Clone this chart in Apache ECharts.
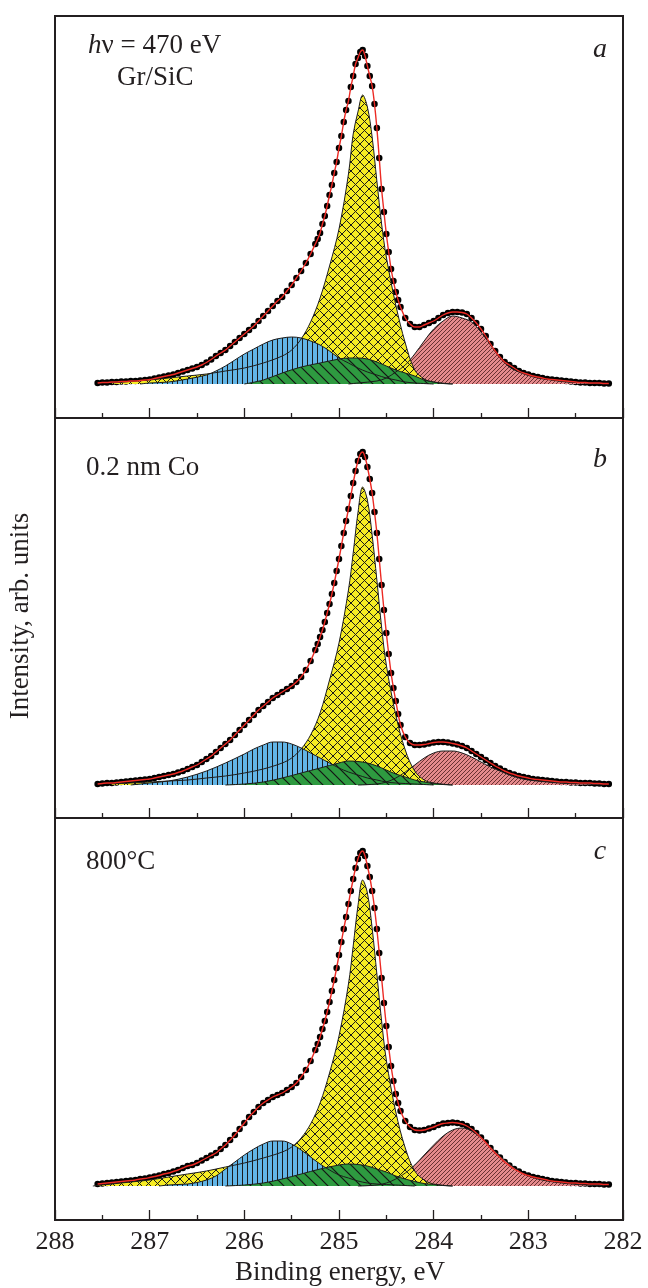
<!DOCTYPE html>
<html>
<head>
<meta charset="utf-8">
<script src="https://cdn.jsdelivr.net/npm/echarts@6/dist/echarts.min.js"></script>
<style>
  html, body { margin: 0; padding: 0; background: #fff; }
  #chart { width: 648px; height: 1288px; }
</style>
</head>
<body>
<div id="chart"></div>
<script>
// binding energies of the measured points (eV), shared by the three spectra
const dotEnergy = [
  287.55, 287.50, 287.45, 287.40, 287.35, 287.30, 287.25, 287.20, 287.15, 287.10,
  287.05, 287.00, 286.95, 286.90, 286.85, 286.80, 286.75, 286.70, 286.65, 286.60,
  286.55, 286.50, 286.45, 286.40, 286.35, 286.30, 286.25, 286.20, 286.15, 286.10,
  286.05, 286.00, 285.95, 285.90, 285.85, 285.80, 285.75, 285.70, 285.65, 285.60,
  285.55, 285.50, 285.45, 285.40, 285.35, 285.30, 285.25, 285.20, 285.15, 285.10,
  285.05, 285.00, 284.95, 284.90, 284.85, 284.80, 284.75, 284.70, 284.65, 284.60,
  284.55, 284.50, 284.45, 284.40, 284.35, 284.30, 284.25, 284.20, 284.15, 284.10,
  284.05, 284.00, 283.95, 283.90, 283.85, 283.80, 283.75, 283.70, 283.65, 283.60,
  283.55, 283.50, 283.45, 283.40, 283.35, 283.30, 283.25, 283.20, 283.15, 283.10,
  283.05, 283.00, 282.95, 282.90, 282.85, 282.80, 282.75, 282.70, 282.65, 282.60,
  282.55, 282.50, 282.45, 282.40, 282.35, 282.30, 282.25, 282.20, 282.15
];
// extra points measured on the steep part of the main peak
const fineEnergy = [
  285.225, 285.175, 285.125, 285.075, 285.025, 284.975, 284.925, 284.875, 284.825,
  284.775, 284.725, 284.675, 284.625, 284.575, 284.525, 284.475, 284.425, 284.375
];

// measured intensity (arb. units above background)
const dotsA = [
  1, 1.5, 1.5, 2, 2, 2.5, 2.5, 3, 3, 3.5,
  4, 4.5, 5.5, 6.5, 7.5, 8.5, 9.5, 11, 12.5, 14,
  15.5, 17, 19, 21.5, 24.5, 28, 31, 34, 38, 42,
  46, 50, 54, 58, 63, 68, 73, 78, 83, 87,
  93, 99, 106, 113, 121, 130, 140, 151, 168, 189,
  211, 236, 262, 283, 308, 326, 334, 318, 298, 256,
  195, 150, 115, 92, 77, 66, 60, 57, 57, 59,
  61, 63, 66, 69, 71, 72, 72, 71.5, 70, 66,
  61, 55, 48, 40, 33, 27, 22, 19, 16, 13,
  11, 9.5, 8, 7, 6, 5, 4.5, 4, 3.5, 3,
  2.5, 2, 1.5, 1.5, 1, 1, 1, 0.5, 0.5
];
const fineA = [145, 160, 178, 199, 222, 248, 274, 297, 320, 332, 328, 308, 280, 226, 172, 132, 103, 84];

const dotsB = [
  1, 1.5, 2, 2, 2.5, 3, 3.5, 4, 4.5, 5,
  5.5, 6, 7, 8, 9, 10, 11, 12.5, 14, 16,
  18, 20, 23, 26, 29, 33, 37, 41, 45, 50,
  55, 60, 65, 70, 75, 79, 83, 87, 90, 93,
  96, 99, 103, 108, 115, 124, 135, 148, 163, 181,
  202, 226, 252, 276, 302, 324, 333, 318, 292, 252,
  200, 152, 112, 84, 60, 48, 42, 40, 40, 40.5,
  41.5, 42.5, 43, 43, 42.5, 41.5, 40.5, 39, 37, 34,
  31, 28, 25, 22, 19, 16.5, 14, 12, 10.5, 9,
  8, 7, 6, 5.5, 5, 4.5, 4, 3.5, 3, 3,
  2.5, 2.5, 2, 2, 2, 1.5, 1.5, 1, 1
];
const fineB = [141, 155, 172, 191, 214, 239, 264, 289, 314, 331, 328, 306, 273, 226, 175, 131, 97, 71];

const dotsC = [
  2, 2.5, 3, 3.5, 4, 4.5, 5, 5.5, 6, 7,
  7.5, 8.5, 9.5, 10.5, 12, 13, 14.5, 16, 18, 20,
  21, 23, 25.5, 28, 30.5, 33, 37, 41, 46, 51,
  57, 63, 69, 74, 79, 83, 86, 89, 91, 93,
  96, 99, 103, 109, 116, 125, 136, 149, 165, 184,
  206, 231, 257, 282, 307, 327, 335, 320, 295, 257,
  208, 160, 120, 92, 75, 65, 59, 56, 55.5, 56,
  57.5, 59, 61, 62.5, 63, 63.5, 63, 62, 60, 57,
  53, 48.5, 43.5, 38, 33, 28.5, 24, 20.5, 17, 14.5,
  12, 10.5, 9, 8, 7, 6, 5, 4.5, 4, 3.5,
  3, 3, 2.5, 2.5, 2, 2, 2, 1.5, 1.5
];
const fineC = [142, 157, 174, 195, 218, 244, 269, 295, 318, 333, 330, 309, 278, 233, 183, 139, 105, 83];

// fitted components [energy, intensity]
const yellowA = [[287.4,1],[287.2,2.5],[287.0,4],[286.8,6],[286.6,8],[286.4,10],[286.2,13],[286.0,16],[285.8,21],[285.6,28],[285.5,34],[285.4,45],[285.3,62],[285.2,86],[285.1,118],[285.0,155],[284.9,210],[284.85,250],[284.8,272],[284.75,289],[284.7,277],[284.65,247],[284.6,203],[284.55,160],[284.5,127],[284.4,79],[284.3,41],[284.2,14],[284.1,5],[284.0,2],[283.8,0]];
const blueA = [[287.1,0],[287.0,1],[286.8,2],[286.6,5],[286.4,9],[286.3,13],[286.2,18],[286.1,24],[286.0,30],[285.9,35],[285.8,40],[285.7,44],[285.6,46],[285.5,47],[285.4,46],[285.3,43],[285.2,39],[285.1,33],[285.0,26],[284.9,21],[284.8,16],[284.7,12],[284.6,9],[284.5,6],[284.4,4],[284.3,2],[284.2,1],[284.0,0]];
const greenA = [[286.0,0],[285.8,4],[285.6,11],[285.4,17],[285.2,21],[285.0,25],[284.9,26],[284.8,26],[284.7,25],[284.6,22],[284.5,18],[284.4,14],[284.3,11],[284.2,8],[284.1,4],[284.0,2],[283.9,0.5],[283.8,0]];
const redA = [[284.9,0],[284.8,1],[284.6,3],[284.5,6],[284.4,12],[284.3,19],[284.2,30],[284.1,43],[284.0,55],[283.9,63],[283.8,68],[283.7,66],[283.6,62],[283.5,52],[283.4,39],[283.3,26],[283.2,17],[283.1,12],[283.0,8.5],[282.9,6],[282.8,4.5],[282.6,2],[282.4,1],[282.2,0]];

const yellowB = [[287.4,1],[287.2,2],[287.0,3],[286.8,4],[286.6,5],[286.4,7],[286.2,9],[286.0,12],[285.8,16],[285.6,22],[285.5,27],[285.4,36],[285.3,50],[285.2,72],[285.1,105],[285.0,142],[284.9,195],[284.85,232],[284.8,272],[284.75,298],[284.7,285],[284.65,250],[284.6,205],[284.55,158],[284.5,120],[284.4,70],[284.3,35],[284.2,14],[284.1,5],[284.0,2],[283.8,0]];
const blueB = [[287.2,0],[287.0,2],[286.8,4],[286.6,8],[286.4,14],[286.2,22],[286.0,31],[285.9,36],[285.8,40],[285.7,43],[285.6,43],[285.5,41],[285.4,37],[285.3,32],[285.2,27],[285.1,22],[285.0,17],[284.9,13],[284.8,10],[284.7,7],[284.6,5],[284.5,3],[284.4,2],[284.2,1],[284.0,0]];
const greenB = [[286.2,0],[286.0,1],[285.8,3],[285.6,7],[285.4,12],[285.2,17],[285.0,22],[284.9,24],[284.8,23.5],[284.7,22],[284.6,19],[284.5,15],[284.4,11],[284.3,8],[284.2,5],[284.1,3],[284.0,1.5],[283.9,0.5],[283.8,0]];
const redB = [[284.8,0],[284.6,1],[284.5,3],[284.4,7],[284.3,13],[284.2,20],[284.1,27],[284.0,32],[283.9,34],[283.8,34],[283.7,32],[283.6,28],[283.5,23],[283.4,18],[283.3,14],[283.2,10],[283.1,7],[283.0,5],[282.8,3],[282.6,1.5],[282.4,1],[282.2,0]];

const yellowC = [[287.6,0],[287.5,1],[287.4,2],[287.2,4],[287.0,6],[286.8,9],[286.6,12],[286.4,15],[286.2,19],[286.0,23],[285.8,28],[285.6,34],[285.5,39],[285.4,48],[285.3,62],[285.2,83],[285.1,113],[285.0,150],[284.9,202],[284.85,240],[284.8,280],[284.75,306],[284.7,293],[284.65,258],[284.6,212],[284.55,165],[284.5,126],[284.4,74],[284.3,38],[284.2,15],[284.1,6],[284.0,2],[283.8,0]];
const blueC = [[286.9,0],[286.8,1],[286.6,2],[286.5,3.5],[286.4,6],[286.3,10],[286.2,17],[286.1,24],[286.0,31],[285.9,37],[285.8,42],[285.7,45],[285.6,45],[285.5,42],[285.4,36],[285.3,29],[285.2,22],[285.1,16],[285.0,11],[284.9,8],[284.8,5],[284.7,3],[284.6,2],[284.4,1],[284.2,0]];
const greenC = [[286.2,0],[286.0,1],[285.8,3],[285.6,7],[285.4,12],[285.2,17],[285.0,21],[284.9,22],[284.8,21.5],[284.7,20],[284.6,17],[284.5,14],[284.4,10],[284.3,7],[284.2,4.5],[284.1,2.5],[284.0,1.5],[283.9,0.5],[283.8,0]];
const redC = [[284.8,0],[284.6,1],[284.5,3],[284.4,7],[284.3,13],[284.2,21],[284.1,31],[284.0,41],[283.9,50],[283.8,56],[283.7,58],[283.6,55],[283.5,48],[283.4,39],[283.3,30],[283.2,22],[283.1,15],[283.0,10],[282.9,7],[282.8,5],[282.6,2.5],[282.4,1],[282.2,0]];

const xTicks = [288, 287, 286, 285, 284, 283, 282];

const panels = [
  {dots: dotsA, fine: fineA, comps: [redA, yellowA, blueA, greenA], top: 16, height: 402, yMin: -34, yMax: 368},
  {dots: dotsB, fine: fineB, comps: [redB, yellowB, blueB, greenB], top: 418, height: 400, yMin: -33, yMax: 367},
  {dots: dotsC, fine: fineC, comps: [redC, yellowC, blueC, greenC], top: 818, height: 402, yMin: -34, yMax: 368}
];

const ink = '#231f20';
const serif = '"Liberation Serif", "Times New Roman", serif';

function hatch(fill, size, draw, stroke, lw) {
  let c = document.createElement('canvas');
  c.width = size;
  c.height = size;
  let g = c.getContext('2d');
  g.fillStyle = fill;
  g.fillRect(0, 0, size, size);
  g.strokeStyle = stroke || '#1a1a1a';
  g.lineWidth = lw || 1;
  g.beginPath();
  draw(g, size);
  g.stroke();
  return {image: c, repeat: 'repeat'};
}

const fills = [
  // red: dense "/" lines
  hatch('#e58a8c', 4, function (g, s) {
    g.moveTo(-1, s + 1); g.lineTo(s + 1, -1);
    g.moveTo(-1, 1); g.lineTo(1, -1);
    g.moveTo(s - 1, s + 1); g.lineTo(s + 1, s - 1);
  }, '#4a1a1c', 0.8),
  // yellow: cross hatch
  hatch('#f6ec23', 9, function (g, s) {
    g.moveTo(-1, -1); g.lineTo(s + 1, s + 1);
    g.moveTo(-1, s + 1); g.lineTo(s + 1, -1);
  }, '#1a1a1a', 1),
  // blue: vertical lines
  hatch('#62b5e6', 5, function (g, s) {
    g.moveTo(2.5, 0); g.lineTo(2.5, s);
  }, '#1a1a1a', 1),
  // green: "\" lines
  hatch('#2e9a40', 11, function (g, s) {
    g.moveTo(-1, -1); g.lineTo(s + 1, s + 1);
    g.moveTo(s - 1, -1); g.lineTo(s + 1, 1);
    g.moveTo(-1, s - 1); g.lineTo(1, s + 1);
  }, '#141414', 1.2)
];

let grids = [], xAxes = [], yAxes = [], series = [];
panels.forEach(function (p, i) {
  grids.push({
    left: 55, right: 25, top: p.top, height: p.height,
    show: true, borderColor: ink, borderWidth: 2
  });
  xAxes.push({
    gridIndex: i, type: 'value', min: 282, max: 288, interval: 1, inverse: true,
    axisLine: {show: true, onZero: false, lineStyle: {color: ink, width: 2}},
    axisTick: {show: true, inside: true, length: 10, lineStyle: {color: ink, width: 1.3}},
    minorTick: {show: true, splitNumber: 2, length: 5, lineStyle: {color: ink, width: 1.3}},
    splitLine: {show: false},
    axisLabel: {
      show: i === 2, margin: 9, color: ink, fontFamily: serif, fontSize: 26,
      formatter: function (v) { return xTicks.indexOf(v) >= 0 ? String(v) : ''; }
    }
  });
  yAxes.push({gridIndex: i, type: 'value', min: p.yMin, max: p.yMax, show: false});

  p.comps.forEach(function (c, k) {
    series.push({
      type: 'line', xAxisIndex: i, yAxisIndex: i, data: c,
      smooth: 0.35, symbol: 'none', silent: true,
      lineStyle: {color: '#1c1c1c', width: 1},
      areaStyle: {color: fills[k], opacity: 1}
    });
  });

  let pts = dotEnergy.map(function (e, k) { return [e, p.dots[k]]; })
    .concat(fineEnergy.map(function (e, k) { return [e, p.fine[k]]; }))
    .sort(function (a, b) { return b[0] - a[0]; });

  // fitted envelope under the measured points
  series.push({
    type: 'line', xAxisIndex: i, yAxisIndex: i, data: pts,
    smooth: 0.3, symbol: 'none', silent: true,
    lineStyle: {color: '#ec2a24', width: 1.4}
  });
  series.push({
    type: 'scatter', xAxisIndex: i, yAxisIndex: i, data: pts,
    symbolSize: 6.5, itemStyle: {color: '#000', opacity: 1}, silent: true
  });
});

function label(x, y, text) {
  return {
    type: 'text', x: x, y: y, silent: true,
    style: {text: text, fill: ink, font: '27px ' + serif, verticalAlign: 'middle'}
  };
}
function letter(x, y, text) {
  return {
    type: 'text', x: x, y: y, silent: true,
    style: {text: text, fill: ink, font: 'italic 28px ' + serif, align: 'center', verticalAlign: 'middle'}
  };
}

let chart = echarts.init(document.getElementById('chart'));
chart.setOption({
  animation: false,
  backgroundColor: '#fff',
  grid: grids,
  xAxis: xAxes,
  yAxis: yAxes,
  series: series,
  graphic: [
    {
      type: 'text', x: 88, y: 46, silent: true,
      style: {
        text: '{i|h}ν = 470 eV', fill: ink, verticalAlign: 'middle',
        font: '27px ' + serif,
        rich: {i: {fontStyle: 'italic', fontFamily: serif, fontSize: 27}}
      }
    },
    label(117, 78, 'Gr/SiC'),
    label(86, 468, '0.2 nm Co'),
    label(86, 862, '800°C'),
    letter(600, 50, 'a'),
    letter(600, 460, 'b'),
    letter(600, 852, 'c'),
    {type: 'text', x: 21, y: 616, rotation: Math.PI / 2, silent: true,
      style: {text: 'Intensity, arb. units', fill: ink, font: '27px ' + serif, align: 'center', verticalAlign: 'middle'}},
    {type: 'text', x: 340, y: 1273, silent: true,
      style: {text: 'Binding energy, eV', fill: ink, font: '27px ' + serif, align: 'center', verticalAlign: 'middle'}}
  ]
});
</script>
</body>
</html>
